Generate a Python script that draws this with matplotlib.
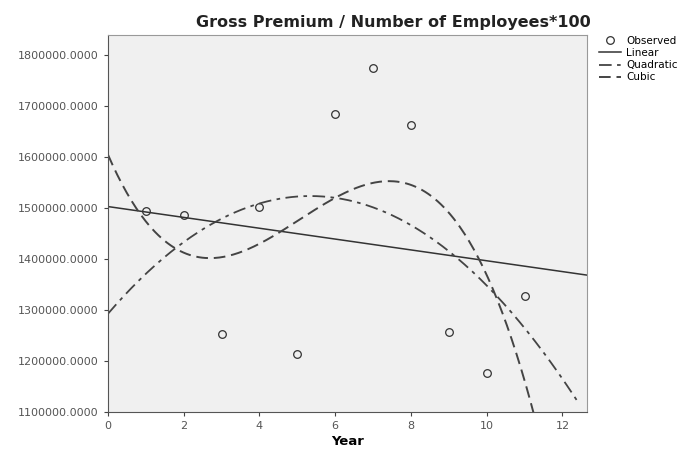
import matplotlib.pyplot as plt
import numpy as np

year = np.array([1, 2, 3, 4, 5, 6, 7, 8, 9, 10, 11])
premium = np.array([1494000, 1486000, 1254000, 1502000, 1214000, 1686000,
                    1775000, 1663000, 1258000, 1176000, 1329000])

yticks = [1100000, 1200000, 1300000, 1400000, 1500000, 1600000, 1700000, 1800000]
xticks = [0, 2, 4, 6, 8, 10, 12]

# curve estimation fits (as SPSS does it)
lin = np.polyfit(year, premium, 1)
quad = np.polyfit(year, premium, 2)
cub = np.polyfit(year, premium, 3)

fig = plt.figure(figsize=(6.83, 4.5), dpi=100)
ax = fig.add_axes([0.158, 0.084, 0.701, 0.838])
ax.set_facecolor('#f0f0f0')

xs = np.linspace(0, 12.64, 300)
xq = np.linspace(0, 12.4, 300)
ax.plot(year, premium, 'o', mfc='none', mec='#333333', ms=5.5, mew=0.9, label='Observed')
ax.plot(xs, np.polyval(lin, xs), '-', color='#333333', lw=1.1, label='Linear')
ax.plot(xq, np.polyval(quad, xq), color='#444444', lw=1.3, ls=(0, (7, 3, 2, 3)), label='Quadratic')
ax.plot(xq, np.polyval(cub, xq), color='#444444', lw=1.4, ls=(0, (6, 3)), label='Cubic')

ax.set_xlim(0, 12.64)
ax.set_ylim(1100000, 1840000)
ax.set_xticks(xticks)
ax.set_yticks(yticks)
ax.set_yticklabels(['%d.0000' % v for v in yticks])
ax.tick_params(labelsize=8, labelcolor='#555555', color='#444444', length=3, width=0.8)

for s in ['left', 'bottom']:
    ax.spines[s].set_color('#555555')
for s in ['top', 'right']:
    ax.spines[s].set_color('#999999')

ax.set_xlabel('Year', fontsize=9.5, fontweight='bold', labelpad=3)
fig.text(0.576, 0.949, 'Gross Premium / Number of Employees*100', ha='center', va='center',
         fontsize=11.5, fontweight='bold', color='#222222')

ax.legend(loc='upper left', bbox_to_anchor=(0.877, 0.92), bbox_transform=fig.transFigure,
          frameon=False, fontsize=7.5, handlelength=2.1, handletextpad=0.5,
          labelspacing=0.2, borderpad=0, borderaxespad=0)

fig.savefig('out.png', dpi=100)
